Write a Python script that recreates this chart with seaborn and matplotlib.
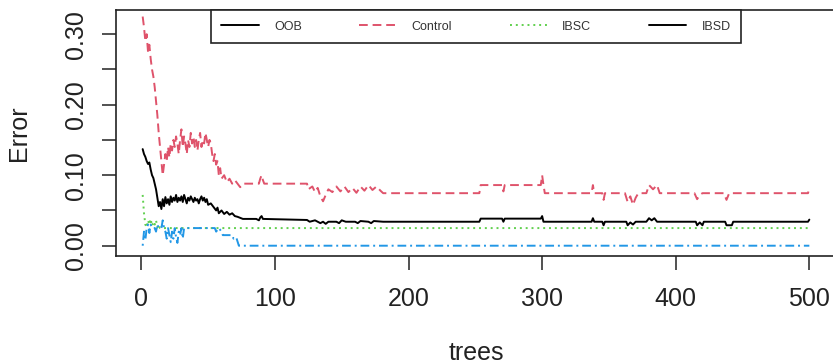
import matplotlib
matplotlib.use("Agg")
import matplotlib.pyplot as plt
import seaborn as sns
from matplotlib.lines import Line2D

# error rates per number of trees
oob_trees = [1, 2, 3, 4, 5, 6, 7, 8, 9, 10, 11, 12, 13, 14, 15, 16, 17, 18, 19, 20,
             21, 22, 23, 24, 25, 26, 27, 28, 29, 30, 31, 32, 33, 34, 35, 36, 37, 38, 39, 40,
             41, 42, 43, 44, 45, 46, 47, 48, 49, 50, 52, 54, 56, 57, 58, 60, 62, 64, 66, 68,
             70, 72, 76, 86, 88, 89, 90, 91, 124, 126, 130, 134, 136, 138, 140, 146, 148, 150, 153, 160,
             162, 164, 170, 172, 174, 181, 253, 254, 270, 271, 272, 299, 300, 301, 337, 338, 339, 345, 346, 347,
             363, 364, 366, 368, 370, 378, 380, 382, 384, 386, 415, 416, 418, 420, 421, 437, 438, 442, 443, 499,
             500]
oob_err = [.137, .13, .126, .12, .116, .118, .108, .10, .096, .088, .08, .068, .056, .062, .052, .066, .056, .069, .06, .066,
           .058, .07, .062, .068, .064, .072, .062, .068, .064, .07, .062, .072, .066, .06, .068, .064, .07, .066, .062, .068,
           .064, .066, .06, .066, .07, .064, .068, .062, .066, .058, .06, .055, .05, .054, .046, .05, .045, .048, .044, .046,
           .042, .041, .038, .038, .036, .04, .042, .038, .0365, .034, .036, .032, .034, .031, .034, .034, .032, .036, .034, .034,
           .032, .035, .034, .032, .035, .034, .034, .0384, .0384, .034, .0384, .0384, .042, .034, .034, .039, .034, .034, .029, .034,
           .034, .029, .033, .03, .034, .034, .039, .036, .039, .034, .034, .029, .033, .029, .034, .034, .029, .029, .034, .034,
           .037]

ctrl_trees = [1, 2, 3, 4, 5, 6, 7, 8, 9, 10, 11, 12, 13, 14, 15, 16, 17, 18, 19, 20,
              21, 22, 23, 24, 25, 26, 27, 28, 29, 30, 31, 32, 33, 34, 35, 36, 37, 38, 39, 40,
              41, 42, 43, 44, 45, 46, 47, 48, 49, 50, 51, 52, 53, 54, 55, 56, 57, 58, 59, 60,
              62, 64, 66, 68, 70, 72, 74, 76, 88, 89, 90, 91, 92, 124, 125, 128, 130, 132, 134, 136,
              138, 140, 143, 146, 149, 152, 155, 158, 161, 164, 167, 170, 173, 176, 179, 181, 253, 254, 270, 271,
              272, 299, 300, 301, 302, 337, 338, 339, 345, 346, 347, 362, 364, 366, 368, 370, 372, 378, 380, 383,
              386, 388, 414, 416, 418, 420, 436, 438, 440, 499, 500]
ctrl_err = [.325, .31, .29, .30, .275, .285, .265, .25, .24, .225, .205, .185, .16, .14, .12, .10, .115, .13, .12, .14,
            .125, .145, .135, .15, .14, .155, .145, .13, .15, .165, .14, .155, .145, .13, .15, .14, .16, .145, .155, .14,
            .15, .135, .15, .16, .14, .15, .145, .16, .15, .14, .15, .145, .13, .12, .13, .115, .12, .10, .11, .095,
            .10, .09, .095, .088, .093, .088, .083, .088, .088, .095, .10, .093, .088, .088, .08, .084, .076, .082, .07, .063,
            .072, .08, .076, .084, .077, .084, .076, .082, .075, .084, .078, .086, .079, .084, .078, .0745, .0745, .086, .086, .077,
            .086, .086, .10, .086, .0745, .0745, .086, .0745, .0745, .065, .0745, .0745, .062, .07, .058, .068, .0745, .0745, .086, .08,
            .086, .0745, .0745, .066, .072, .0745, .0745, .065, .0745, .0745, .082]

ibsc_trees = [1, 2, 3, 4, 5, 6, 7, 8, 9, 10, 11, 12, 13, 14, 500]
ibsc_err = [.072, .046, .03, .026, .036, .03, .038, .028, .034, .03, .036, .026, .03, .025, .025]

ibsd_trees = [1, 2, 3, 4, 5, 6, 7, 8, 10, 11, 12, 13, 15, 16, 17, 18, 19, 20, 21, 22,
              23, 24, 25, 26, 27, 28, 29, 30, 31, 32, 55, 56, 58, 60, 61, 68, 69, 71, 72, 73,
              500]
ibsd_err = [0, .02, .008, .025, .03, .018, .03, .025, .025, .02, .03, .025, .025, .036, .025, .02, .01, .025, .015, .005,
            .02, .01, .025, .012, .004, .02, .015, .025, .01, .025, .025, .02, .025, .02, .015, .015, .01, .012, .006, 0,
            0]

legend_labels = ["OOB", "Control", "IBSC", "IBSD"]

sns.set_style("ticks")
plt.rcParams["font.family"] = ["Liberation Sans", "DejaVu Sans"]

fig = plt.figure(figsize=(8.33, 3.64), dpi=100)
ax = fig.add_axes([0.13926, 0.29670, 0.86435, 0.67720])

red_ls = (0, (4.5, 2.5))
series = [
    (oob_trees, oob_err, "black", "-"),
    (ctrl_trees, ctrl_err, "#DF536B", red_ls),
    (ibsc_trees, ibsc_err, "#61D04F", (0, (1, 2))),
    (ibsd_trees, ibsd_err, "#2297E6", (0, (1, 2, 4.5, 2))),
]
for t, e, c, ls in series:
    sns.lineplot(x=t, y=e, ax=ax, color=c, linestyle=ls, lw=1.4,
                 estimator=None, sort=False, legend=False)

ax.set_xlim(-18.96, 519.96)
ax.set_ylim(-0.0146, 0.335)
ax.set_xticks([0, 100, 200, 300, 400, 500])
ax.set_yticks([0, 0.05, 0.10, 0.15, 0.20, 0.25, 0.30])
ax.set_yticklabels(["0.00", "", "0.10", "", "0.20", "", "0.30"])
ax.tick_params(axis="both", length=10, width=1.1, color="#222222", labelsize=18,
               labelcolor="#222222")
ax.tick_params(axis="x", pad=12)
ax.tick_params(axis="y", pad=10, labelrotation=90)
for lab in ax.get_yticklabels():
    lab.set_va("center")

for s in ax.spines.values():
    s.set_color("#222222")
    s.set_linewidth(1.2)

ax.set_xlabel("trees", fontsize=18, color="#222222", labelpad=22)
ax.set_ylabel("Error", fontsize=18, color="#222222", labelpad=24)

handles = [
    Line2D([], [], color="black", lw=1.4),
    Line2D([], [], color="#DF536B", lw=1.4, linestyle=red_ls),
    Line2D([], [], color="#61D04F", lw=1.4, linestyle=(0, (1, 2))),
    Line2D([], [], color="black", lw=1.4),
]
leg = ax.legend(handles, legend_labels, ncol=4, loc="upper center",
                bbox_to_anchor=(476 / 833, 1 - 10 / 364), bbox_transform=fig.transFigure,
                borderaxespad=0, fontsize=9, handlelength=3.0, handletextpad=1.2,
                columnspacing=4.6, borderpad=0.85, fancybox=False, framealpha=1,
                edgecolor="#222222", labelcolor="#333333")
leg.get_frame().set_linewidth(1.2)

fig.savefig("out.png", dpi=100)
